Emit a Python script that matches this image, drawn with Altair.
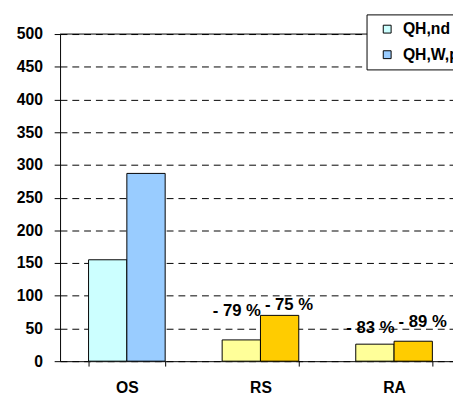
import altair as alt
import pandas as pd

categories = ["OS", "RS", "RA"]
nd_values = [155, 32.5, 26]
wp_values = [287, 70, 30.5]
nd_keys = ["QH,nd", "nd2", "nd2"]
wp_keys = ["QH,W,p", "wp2", "wp2"]
labels_nd = ["", "- 79 %", "- 83 %"]
labels_wp = ["", "- 75 %", "- 89 %"]
label_y_nd = [0, 69, 42.5]
label_y_wp = [0, 77.5, 52.5]
y_ticks = [0, 50, 100, 150, 200, 250, 300, 350, 400, 450, 500]

color_domain = ["QH,nd", "QH,W,p", "nd2", "wp2"]
color_range = ["#CCFFFF", "#99CCFF", "#FFFF99", "#FFCC00"]

rows = []
for i, c in enumerate(categories):
    rows.append({"cat": c, "series": "a", "value": nd_values[i], "key": nd_keys[i],
                 "label": labels_nd[i], "ly": label_y_nd[i]})
    rows.append({"cat": c, "series": "b", "value": wp_values[i], "key": wp_keys[i],
                 "label": labels_wp[i], "ly": label_y_wp[i]})
df = pd.DataFrame(rows)

FONT = "Liberation Sans"

xscale = alt.Scale(domain=categories, range=[0, 408], paddingInner=0.4265, paddingOuter=0.2132)
x = alt.X("cat:N", scale=xscale, sort=categories,
          axis=alt.Axis(title=None, labelAngle=0, labelFont=FONT, labelFontWeight="bold",
                        labelFontSize=16, labelColor="black", tickBand="extent", tickSize=5,
                        tickColor="black", domainColor="black", labelPadding=14))
xo = alt.XOffset("series:N", scale=alt.Scale(domain=["a", "b"], paddingInner=0, paddingOuter=0))
yscale = alt.Scale(domain=[0, 500], nice=False)
yaxis = alt.Axis(title=None, values=y_ticks, labelOverlap=False,
                 labelFont=FONT, labelFontWeight="bold", labelFontSize=16,
                 labelColor="black", tickSize=6, tickColor="black", domainColor="black",
                 labelPadding=12, grid=True, gridColor="black", gridDash=[7, 5],
                 gridWidth=1)

bars = alt.Chart(df).mark_bar(stroke="black", strokeWidth=1).encode(
    x=x, xOffset=xo, y=alt.Y("value:Q", scale=yscale, axis=yaxis),
    fill=alt.Fill("key:N", scale=alt.Scale(domain=color_domain, range=color_range),
                  legend=alt.Legend(values=["QH,nd", "QH,W,p"], title=None, orient="none",
                                    legendX=312, legendY=-20, strokeColor="black",
                                    fillColor="white", padding=7, symbolOffset=6,
                                    labelOffset=8, symbolType="square", symbolSize=64,
                                    symbolStrokeColor="black", symbolStrokeWidth=1,
                                    rowPadding=10, labelFont=FONT, labelFontWeight="bold",
                                    labelFontSize=16, labelColor="black")),
)

top_rule = alt.Chart(pd.DataFrame({"value": [500]})).mark_rule(color="black", strokeWidth=1).encode(
    y=alt.Y("value:Q", scale=yscale, axis=yaxis)
)

lab_a = alt.Chart(df).transform_filter("datum.series == 'a' && datum.label != ''").mark_text(
    align="right", baseline="alphabetic", dx=20, font=FONT, fontWeight="bold", fontSize=17,
    color="black").encode(x=x, xOffset=xo, y=alt.Y("ly:Q", scale=yscale, axis=yaxis), text="label:N")
lab_b = alt.Chart(df).transform_filter("datum.series == 'b' && datum.label != ''").mark_text(
    align="left", baseline="alphabetic", dx=-15, font=FONT, fontWeight="bold", fontSize=17,
    color="black").encode(x=x, xOffset=xo, y=alt.Y("ly:Q", scale=yscale, axis=yaxis), text="label:N")

chart = alt.layer(bars, top_rule, lab_a, lab_b).properties(
    width=400, height=333,
    autosize=alt.AutoSizeParams(type="none"),
    padding={"left": 53, "top": 23, "right": 0, "bottom": 36},
    background="white",
).configure_view(stroke=None)

chart.save("out.html", embed_options={"renderer": "svg", "actions": False})
